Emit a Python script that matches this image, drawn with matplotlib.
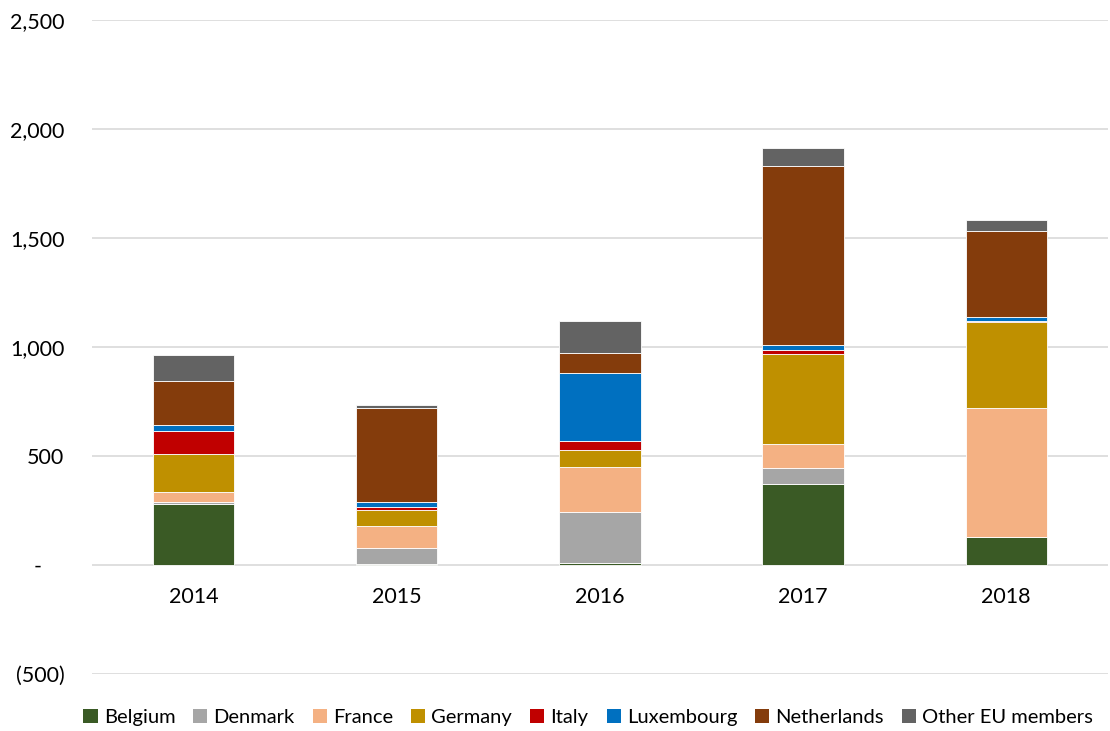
import matplotlib
matplotlib.use("Agg")
import matplotlib.pyplot as plt
from matplotlib.patches import Patch
import numpy as np

plt.rcParams["font.family"] = ["Lato", "DejaVu Sans"]

years = ["2014", "2015", "2016", "2017", "2018"]
countries = ["Belgium", "Denmark", "France", "Germany", "Italy",
             "Luxembourg", "Netherlands", "Other EU members"]
belgium = [278, 3, 10, 372, 127]
denmark = [9, 75, 235, 72, 0]
france = [49, 101, 206, 112, 593]
germany = [173, 73, 78, 413, 394]
italy = [107, 14, 41, 18, 5]
luxembourg = [26, 23, 310, 20, 20]
netherlands = [203, 430, 92, 823, 394]
other_eu = [118, 15, 148, 83, 49]

series = [belgium, denmark, france, germany, italy, luxembourg, netherlands, other_eu]
colors = ["#3a5a25", "#a6a6a6", "#f4b183", "#bf9000", "#c00000",
          "#0070c0", "#843c0c", "#636363"]

fig = plt.figure(figsize=(11.1, 7.31), dpi=100)
ax = fig.add_axes([0.083, 0.078, 0.915, 0.8946])

x = np.arange(len(years))
bottom = np.zeros(len(years))
for vals, c in zip(series, colors):
    ax.bar(x, vals, width=0.4, bottom=bottom, color=c, edgecolor="white",
           linewidth=0.6, zorder=3)
    bottom += np.array(vals)

ax.set_ylim(-500, 2500)
ax.set_xlim(-0.5, len(years) - 0.5)
yticks = [-500, 0, 500, 1000, 1500, 2000, 2500]
ylabels = ["(500)", "-    ", "500", "1,000", "1,500", "2,000", "2,500"]
ax.set_yticks(yticks)
ax.set_yticklabels(ylabels, fontsize=15.5)
ax.tick_params(axis="y", length=0, pad=20)
ax.set_xticks([])
ax.grid(axis="y", color="#d9d9d9", linewidth=1.2, zorder=0)
for s in ax.spines.values():
    s.set_visible(False)

for i, y in enumerate(years):
    ax.annotate(y, xy=(i, 0), xytext=(0, -23), textcoords="offset points",
                ha="center", va="center", fontsize=15.5)

handles = [Patch(facecolor=c, label=n) for c, n in zip(colors, countries)]
fig.legend(handles=handles, loc="center", bbox_to_anchor=(0.53, 0.018),
           ncol=8, frameon=False, fontsize=14.5, handlelength=0.7,
           handleheight=0.7, handletextpad=0.3, columnspacing=0.9)

fig.savefig("out.png", dpi=100)
